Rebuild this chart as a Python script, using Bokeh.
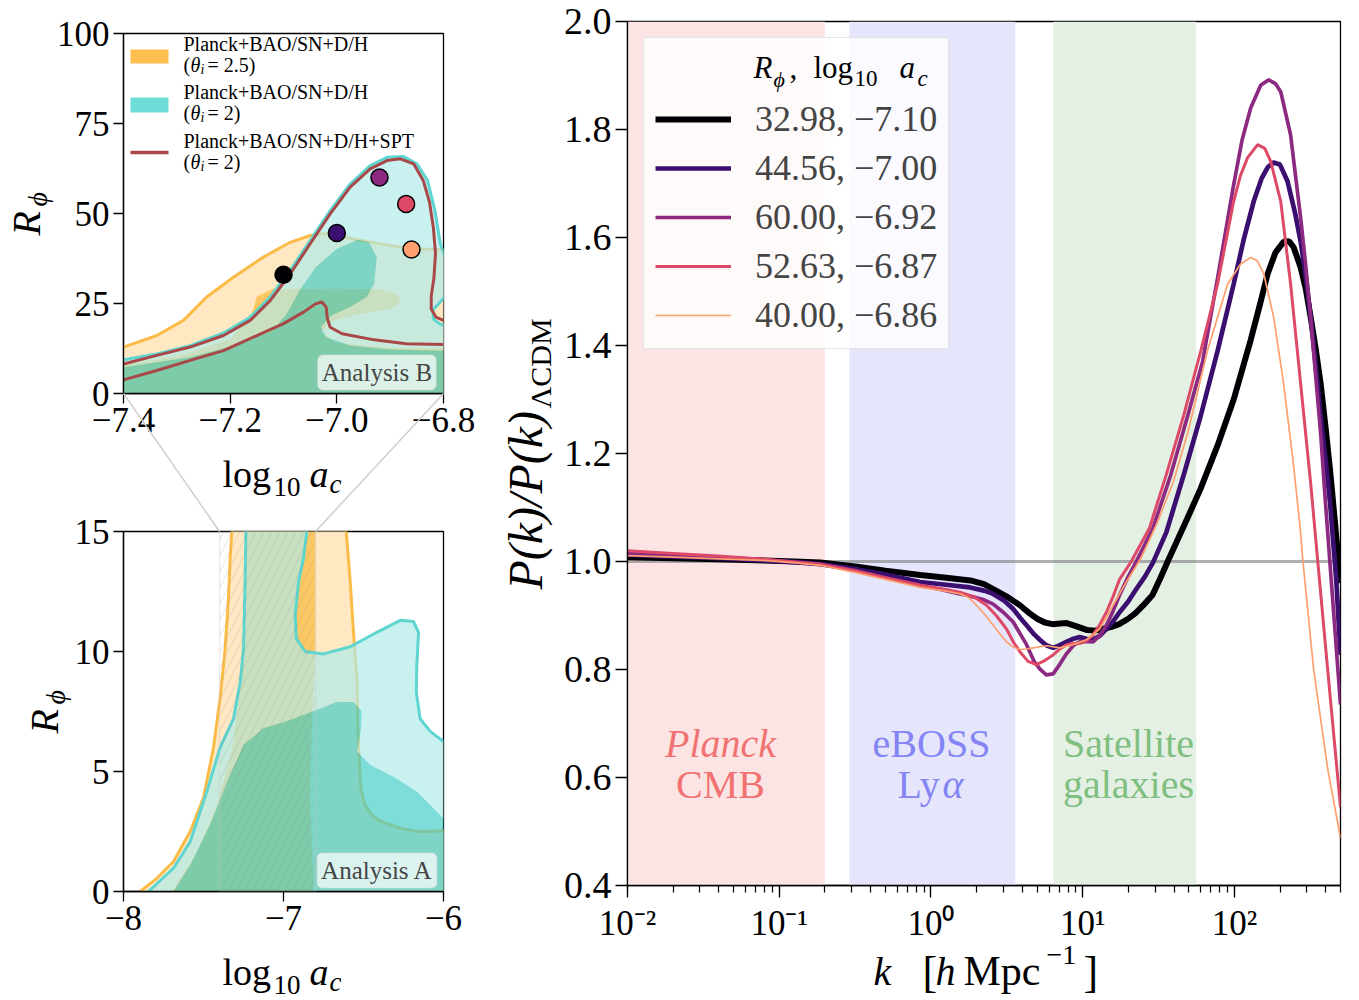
import numpy as np
from bokeh.plotting import figure
from bokeh.layouts import row, column
from bokeh.models import (Range1d, FixedTicker, CustomJSTickFormatter, Label, Span,
                          BoxAnnotation, Legend, LegendItem)
from bokeh.embed import file_html
from bokeh.resources import INLINE

SERIF = "Liberation Serif"

# ------------------------------------------------------------------ data
# benchmark models: R_phi and log10 a_c
R_phi = [32.98, 44.56, 60.00, 52.63, 40.00]
log10_ac = [-7.10, -7.00, -6.92, -6.87, -6.86]

# P(k)/P(k)_LCDM for each benchmark: log10(k [h/Mpc]) and ratio
lk_0 = [-2.0, -1.7, -1.4, -1.1, -0.9, -0.73, -0.5, -0.3, -0.07, 0.1, 0.26, 0.35, 0.41, 0.5,
        0.586, 0.65, 0.70, 0.75, 0.80, 0.85, 0.895, 0.96, 1.03, 1.08, 1.13, 1.19, 1.24, 1.30,
        1.35, 1.40, 1.46, 1.51, 1.56, 1.62, 1.69, 1.777, 1.889, 1.995, 2.107, 2.17, 2.219,
        2.27, 2.324, 2.36, 2.39, 2.436, 2.47, 2.502, 2.535, 2.568, 2.60, 2.63, 2.66, 2.699]
ratio_0 = [1.008, 1.006, 1.004, 1.002, 1.000, 0.998, 0.991, 0.983, 0.975, 0.970, 0.965, 0.958,
           0.949, 0.935, 0.919, 0.904, 0.894, 0.887, 0.884, 0.885, 0.886, 0.880, 0.873, 0.872,
           0.875, 0.879, 0.884, 0.894, 0.905, 0.919, 0.938, 0.968, 1.000, 1.037, 1.080, 1.135,
           1.215, 1.300, 1.410, 1.478, 1.533, 1.572, 1.592, 1.593, 1.582, 1.545, 1.505, 1.453,
           1.395, 1.330, 1.250, 1.170, 1.080, 0.960]

lk_1 = [-2.0, -1.7, -1.4, -1.1, -0.9, -0.73, -0.5, -0.3, -0.07, 0.1, 0.257, 0.35, 0.41, 0.48,
        0.542, 0.59, 0.63, 0.68, 0.717, 0.76, 0.805, 0.85, 0.893, 0.94, 0.98, 1.024, 1.068, 1.11,
        1.156, 1.20, 1.243, 1.30, 1.353, 1.41, 1.463, 1.551, 1.66, 1.777, 1.889, 1.995, 2.06,
        2.127, 2.18, 2.219, 2.258, 2.30, 2.35, 2.40, 2.436, 2.47, 2.502, 2.535, 2.568, 2.60,
        2.63, 2.67, 2.699]
ratio_1 = [1.012, 1.009, 1.006, 1.002, 0.999, 0.995, 0.986, 0.976, 0.962, 0.957, 0.952, 0.946,
           0.940, 0.928, 0.912, 0.895, 0.882, 0.865, 0.855, 0.845, 0.840, 0.845, 0.851, 0.857,
           0.860, 0.857, 0.855, 0.862, 0.875, 0.889, 0.906, 0.926, 0.949, 0.972, 0.998, 1.054,
           1.155, 1.269, 1.390, 1.514, 1.595, 1.667, 1.710, 1.730, 1.739, 1.735, 1.704, 1.645,
           1.593, 1.528, 1.453, 1.365, 1.270, 1.190, 1.109, 0.970, 0.827]

lk_2 = [-2.0, -1.7, -1.4, -1.1, -0.9, -0.73, -0.5, -0.3, -0.07, 0.1, 0.19, 0.257, 0.35, 0.41,
        0.48, 0.542, 0.59, 0.63, 0.68, 0.717, 0.76, 0.805, 0.85, 0.893, 0.94, 0.98, 1.024, 1.068,
        1.11, 1.156, 1.20, 1.243, 1.30, 1.353, 1.41, 1.463, 1.58, 1.692, 1.79, 1.889, 1.995,
        2.05, 2.107, 2.173, 2.226, 2.27, 2.305, 2.37, 2.436, 2.47, 2.502, 2.535, 2.568, 2.60,
        2.65, 2.699]
ratio_2 = [1.016, 1.012, 1.008, 1.003, 0.999, 0.995, 0.983, 0.970, 0.956, 0.946, 0.940, 0.936,
           0.929, 0.921, 0.905, 0.888, 0.865, 0.846, 0.815, 0.801, 0.790, 0.792, 0.810, 0.829,
           0.845, 0.851, 0.852, 0.851, 0.862, 0.882, 0.908, 0.938, 0.972, 1.000, 1.032, 1.062,
           1.160, 1.270, 1.370, 1.525, 1.698, 1.780, 1.840, 1.882, 1.892, 1.885, 1.870, 1.790,
           1.637, 1.548, 1.453, 1.345, 1.238, 1.109, 0.920, 0.735]

lk_3 = [-2.0, -1.7, -1.4, -1.1, -0.9, -0.73, -0.5, -0.3, -0.07, 0.1, 0.191, 0.28, 0.366, 0.43,
        0.498, 0.545, 0.586, 0.64, 0.695, 0.74, 0.805, 0.85, 0.893, 0.94, 0.98, 1.024, 1.068,
        1.11, 1.156, 1.20, 1.243, 1.32, 1.44, 1.55, 1.665, 1.78, 1.889, 1.995, 2.04, 2.087,
        2.153, 2.20, 2.239, 2.305, 2.37, 2.436, 2.502, 2.548, 2.614, 2.699]
ratio_3 = [1.020, 1.015, 1.010, 1.004, 0.999, 0.995, 0.983, 0.970, 0.956, 0.948, 0.943, 0.935,
           0.919, 0.900, 0.875, 0.850, 0.833, 0.815, 0.809, 0.815, 0.827, 0.838, 0.846, 0.848,
           0.848, 0.853, 0.864, 0.882, 0.906, 0.935, 0.967, 1.000, 1.062, 1.160, 1.270, 1.392,
           1.514, 1.667, 1.715, 1.748, 1.772, 1.765, 1.741, 1.667, 1.514, 1.330, 1.146, 1.004,
           0.801, 0.545]

lk_4 = [-2.0, -1.7, -1.4, -1.1, -0.9, -0.73, -0.5, -0.3, -0.07, 0.1, 0.191, 0.25, 0.30, 0.36,
        0.41, 0.46, 0.498, 0.54, 0.586, 0.63, 0.673, 0.761, 0.849, 0.936, 1.024, 1.112, 1.2,
        1.287, 1.382, 1.492, 1.60, 1.692, 1.823, 1.955, 2.041, 2.107, 2.15, 2.193, 2.258, 2.324,
        2.39, 2.436, 2.45, 2.522, 2.614, 2.699]
ratio_4 = [1.011, 1.008, 1.005, 1.002, 0.998, 0.993, 0.980, 0.967, 0.952, 0.945, 0.940, 0.933,
           0.919, 0.900, 0.882, 0.864, 0.851, 0.842, 0.837, 0.838, 0.840, 0.844, 0.840, 0.846,
           0.855, 0.875, 0.919, 0.962, 1.005, 1.072, 1.150, 1.238, 1.391, 1.514, 1.551, 1.563,
           1.557, 1.533, 1.453, 1.330, 1.177, 1.054, 1.004, 0.800, 0.617, 0.488]

# scales probed by each data set, k in h/Mpc
probe_top = ["Planck", "eBOSS", "Satellite"]
probe_bottom = ["CMB", "Ly", "galaxies"]
probe_k_lo = [0.01, 0.29, 6.4]
probe_k_hi = [0.20, 3.6, 56.0]

# Analysis B (theta_i = 2.5, 2 and +SPT): contour boundaries in (log10 a_c, R_phi)
b_orange_x = [-7.40, -7.3375, -7.2875, -7.244, -7.194, -7.1375, -7.0875, -7.05, -7.025, -7.00,
              -6.9625, -6.90, -6.856, -6.80]
b_orange_y = [12.9, 16.1, 20.3, 26.8, 32.3, 37.9, 42.0, 43.9, 44.4, 43.9, 42.7, 41.1, 40.2, 39.9]
b_orange_core_x = [-7.40, -7.30, -7.20, -7.16, -7.15, -7.12, -7.00, -6.92, -6.885, -6.882, -6.90,
                   -6.96, -7.01, -7.03, -7.00, -6.90, -6.80]
b_orange_core_y = [8.0, 10.5, 15.0, 22.0, 27.0, 29.0, 29.2, 29.0, 27.5, 25.0, 23.5, 22.0, 20.0,
                   17.0, 14.0, 12.8, 12.6]
b_cyan_x = [-7.40, -7.3375, -7.275, -7.2125, -7.1625, -7.125, -7.0875, -7.05, -7.0125, -6.975,
            -6.9375, -6.906, -6.875, -6.85, -6.83, -6.816, -6.806, -6.797, -6.797, -6.806, -6.82,
            -6.819, -6.806, -6.797]
b_cyan_y = [9.35, 11.0, 13.3, 16.8, 21.2, 26.8, 34.2, 42.5, 50.8, 58.2, 63.3, 65.6, 65.8, 63.8,
            59.2, 50.8, 41.6, 38.0, 27.0, 25.4, 23.2, 20.7, 19.2, 18.9]
b_cyan_core_x = [-7.40, -7.275, -7.18, -7.12, -7.094, -7.07, -7.04, -7.00, -6.96, -6.94, -6.925,
                 -6.93, -6.944, -6.975, -7.01, -7.03, -7.02, -6.975, -6.90, -6.80]
b_cyan_core_y = [7.3, 10.1, 13.8, 17.5, 22.1, 28.6, 35.1, 40.2, 42.7, 42.0, 37.9, 30.5, 26.8,
                 24.0, 21.7, 18.4, 15.6, 13.3, 12.2, 11.9]
b_spt_outer_x = [-7.40, -7.3375, -7.275, -7.2125, -7.1625, -7.125, -7.0875, -7.05, -7.0125,
                 -6.975, -6.9375, -6.906, -6.881, -6.856, -6.838, -6.826, -6.819, -6.815, -6.818,
                 -6.823, -6.823, -6.814, -6.80]
b_spt_outer_y = [8.2, 10.6, 12.9, 16.1, 20.3, 25.8, 33.2, 41.6, 49.9, 57.3, 62.4, 64.7, 65.2,
                 63.8, 59.2, 53.0, 46.0, 39.0, 32.0, 27.0, 23.5, 21.2, 20.3]
b_spt_inner_x = [-7.40, -7.3375, -7.275, -7.2125, -7.15, -7.10, -7.0625, -7.04, -7.028, -7.02,
                 -7.018, -7.0125, -6.99, -6.93, -6.87, -6.80]
b_spt_inner_y = [3.8, 6.4, 9.2, 11.9, 16.1, 19.4, 22.6, 24.9, 25.4, 24.0, 21.0, 18.4, 16.6, 14.9,
                 13.8, 13.6]

# Analysis A contours (outer contours split into a left and a right branch)
a_orange_lx = [-7.896, -7.79, -7.6875, -7.583, -7.50, -7.4375, -7.396, -7.365, -7.344, -7.333,
               -7.323, -7.32]
a_orange_ly = [0.0, 0.56, 1.25, 2.5, 3.9, 6.0, 8.06, 10.1, 12.2, 13.9, 15.0, 15.5]
a_orange_rx = [-6.61, -6.608, -6.583, -6.5625, -6.54, -6.535, -6.52, -6.515, -6.49, -6.45, -6.40,
               -6.333, -6.25, -6.167, -6.08, -6.0]
a_orange_ry = [15.5, 15.0, 12.9, 10.8, 8.75, 6.67, 4.6, 4.2, 3.6, 3.2, 2.95, 2.78, 2.6, 2.5, 2.5,
               2.54]
a_orange_core_x = [-7.70, -7.55, -7.42, -7.32, -7.26, -7.24, -7.235, -7.235, -6.80, -6.80, -6.82,
                   -6.835, -6.82, -6.81]
a_orange_core_y = [0.0, 1.5, 3.5, 6.0, 9.0, 12.0, 15.0, 15.5, 15.5, 10.0, 7.5, 4.0, 1.5, 0.0]
a_cyan_lx = [-7.844, -7.6875, -7.583, -7.479, -7.396, -7.3125, -7.27, -7.25, -7.24, -7.235, -7.234]
a_cyan_ly = [0.0, 0.97, 2.08, 4.17, 6.0, 7.2, 8.75, 10.1, 12.9, 15.0, 15.5]
a_cyan_rx = [-6.852, -6.854, -6.875, -6.906, -6.927, -6.92, -6.865, -6.75, -6.583, -6.417, -6.27,
             -6.1875, -6.156, -6.167, -6.17, -6.146, -6.083, -6.0]
a_cyan_ry = [15.5, 15.0, 13.9, 12.9, 11.5, 10.55, 10.0, 9.9, 10.2, 10.8, 11.3, 11.25, 10.8, 9.4,
             8.3, 7.2, 6.67, 6.25]
a_cyan_core_x = [-7.6875, -7.583, -7.458, -7.333, -7.25, -7.125, -6.958, -6.79, -6.667, -6.5625,
                 -6.51, -6.517, -6.54, -6.458, -6.29, -6.167, -6.0625, -6.0]
a_cyan_core_y = [0.0, 1.1, 2.8, 4.86, 6.1, 6.8, 7.15, 7.57, 7.9, 7.9, 7.5, 6.67, 5.83, 5.28, 4.7,
                 4.17, 3.47, 3.05]

# axis ranges and ticks
B_XR, B_YR = (-7.4, -6.8), (0.0, 100.0)
A_XR, A_YR = (-8.0, -6.0), (0.0, 15.0)
K_XR, K_YR = (0.01, 500.0), (0.4, 2.0)
b_xticks = [-7.4, -7.2, -7.0, -6.8]
b_yticks = [0, 25, 50, 75, 100]
a_xticks = [-8, -7, -6]
a_yticks = [0, 5, 10, 15]
k_yticks = [0.4, 0.6, 0.8, 1.0, 1.2, 1.4, 1.6, 1.8, 2.0]

# ------------------------------------------------------------------ style
model_colors = ["#000004", "#3b0f70", "#8c2981", "#de4968", "#fe9f6d"]
model_widths = [6.0, 4.7, 3.7, 3.0, 1.7]
probe_fill = ["#fde4e4", "#e5e5fc", "#e4f0e4"]
probe_text = ["#f07272", "#8484f4", "#7fbf7f"]
probe_center_px = [720, 931, 1128]
OR_1, OR_2, OR_A = "#fdc04d", "#ffe5b9", 0.87
CY_1, CY_2, CY_A = "#44ccc8", "#afebe8", 0.69
OR_LINE, CY_LINE, SPT_LINE = "#fbbc47", "#5fd5cf", "#a84848"

# page geometry of the three frames: left, top, width, height (px)
B_FRAME = (123, 33, 320, 360)
A_FRAME = (123, 531, 320, 360)
K_FRAME = (627, 21, 713, 864)
PAGE_W, PAGE_H = 1359, 1000
LEFT_W, TOP_H, BOT_H = 490, 505, 495
RIGHT_W, RIGHT_H = PAGE_W - LEFT_W, PAGE_H


def make_map(frame, xr, yr, logx=False):
    fx, fy, fw, fh = frame
    lx0, lx1 = (np.log10(xr[0]), np.log10(xr[1])) if logx else xr

    def to_data(px, py):
        xv = lx0 + (px - fx) / fw * (lx1 - lx0)
        x = 10 ** xv if logx else xv
        y = yr[1] - (py - fy) / fh * (yr[1] - yr[0])
        return float(x), float(y)

    def to_page(x, y):
        xv = np.log10(x) if logx else x
        return (float(fx + (xv - lx0) / (lx1 - lx0) * fw),
                float(fy + (yr[1] - y) / (yr[1] - yr[0]) * fh))
    return to_data, to_page


b_data, b_page = make_map(B_FRAME, B_XR, B_YR)
a_data, a_page = make_map(A_FRAME, A_XR, A_YR)
k_data, k_page = make_map(K_FRAME, K_XR, K_YR, logx=True)


def page_data(px, py):
    return float(px), float(py)


def text(p, to_data, s, px, py, size, style="normal", color="black", rotate=False,
         align="left"):
    """Place a text run by its baseline (px, py); rotated runs read bottom to top."""
    if rotate:
        px, py, angle = px - 0.34 * size, py, np.pi / 2
    else:
        py, angle = py - 0.34 * size, 0.0
    x, y = to_data(px, py)
    p.add_layout(Label(x=x, y=y, text=s, text_font=SERIF, text_font_size=f"{size}px",
                       text_font_style=style, text_color=color, angle=angle,
                       text_align=align, text_baseline="middle"))


def minus_fmt(decimals):
    return CustomJSTickFormatter(code=f"""
        const s = Math.abs(tick).toFixed({decimals});
        return (tick < -1e-9 ? "\\u2212" : "") + s;
    """)


def base_style(p, tick_size="35px"):
    p.grid.visible = False
    p.outline_line_color = "black"
    p.outline_line_width = 1.3
    p.outline_line_alpha = 1.0
    p.background_fill_color = "white"
    p.border_fill_color = "white"
    for ax in p.axis:
        ax.axis_line_width = 1.3
        ax.major_tick_line_width = 1.3
        ax.major_tick_in = 0
        ax.major_tick_out = 10
        ax.minor_tick_line_color = None
        ax.major_label_text_font = SERIF
        ax.major_label_text_font_size = tick_size
        ax.major_label_text_color = "black"
        ax.major_label_standoff = 4
        ax.axis_label = None


def close_down(xs, ys, x_left, x_right, y_floor):
    """Close an edge-to-edge contour branch down below the frame."""
    return ([x_left] + list(xs) + [x_right, x_right, x_left],
            [ys[0]] + list(ys) + [ys[-1], y_floor, y_floor])


def band_pair(p, outer, inner, c_out, c_in, alpha):
    """Outer (2 sigma) ring with the inner region cut out, then the inner (1 sigma) region."""
    (ox, oy), (ix, iy) = outer, inner
    p.multi_polygons(xs=[[[list(ox), list(ix)]]], ys=[[[list(oy), list(iy)]]],
                     fill_color=c_out, fill_alpha=alpha, line_color=None)
    p.multi_polygons(xs=[[[list(ix)]]], ys=[[[list(iy)]]],
                     fill_color=c_in, fill_alpha=alpha, line_color=None)


def corner_box(p, to_data, frame, s):
    x, y = to_data(376.5, frame[1] + frame[3] - 21.0)
    p.add_layout(Label(x=x, y=y, text=s, text_font=SERIF, text_font_size="25px",
                       text_align="center", text_baseline="middle",
                       background_fill_color="white", background_fill_alpha=0.72,
                       border_line_color="#d8d8d8", border_line_alpha=0.6,
                       padding=4, border_radius=5))


# ------------------------------------------------------------------ Analysis B (top left)
top = figure(width=LEFT_W, height=TOP_H, x_range=Range1d(*B_XR), y_range=Range1d(*B_YR),
             output_backend="svg", toolbar_location=None, title=None,
             min_border_left=B_FRAME[0], min_border_top=B_FRAME[1],
             min_border_right=LEFT_W - B_FRAME[0] - B_FRAME[2],
             min_border_bottom=TOP_H - B_FRAME[1] - B_FRAME[3])
base_style(top)
top.xaxis.ticker = FixedTicker(ticks=b_xticks)
top.xaxis.formatter = minus_fmt(1)
top.yaxis.ticker = FixedTicker(ticks=b_yticks)

XL, XR_, YF = -7.45, -6.75, -5.0
band_pair(top, close_down(b_orange_x, b_orange_y, XL, XR_, YF),
          close_down(b_orange_core_x, b_orange_core_y, XL, XR_, YF), OR_2, OR_1, OR_A)
top.line(b_orange_x, b_orange_y, line_color=OR_LINE, line_width=3)
band_pair(top, close_down(b_cyan_x, b_cyan_y, XL, XR_, YF),
          close_down(b_cyan_core_x, b_cyan_core_y, XL, XR_, YF), CY_2, CY_1, CY_A)
top.line(b_cyan_x, b_cyan_y, line_color=CY_LINE, line_width=3)
top.line(b_spt_outer_x, b_spt_outer_y, line_color=SPT_LINE, line_width=3)
top.line(b_spt_inner_x, b_spt_inner_y, line_color=SPT_LINE, line_width=3)
top.scatter(log10_ac, R_phi, size=17, fill_color=model_colors, line_color="black", line_width=1.5)

# key for the contour sets
for (y0, y1), col in [((49, 63), "#febe50"), ((97, 112), "#6edcd7")]:
    xa, ya = b_data(130, y1)
    xb, yb = b_data(168, y0)
    top.add_layout(BoxAnnotation(left=xa, right=xb, bottom=ya, top=yb, fill_color=col,
                                 fill_alpha=1.0, line_color=None))
xa, ya = b_data(130, 152)
xb, _ = b_data(168, 152)
top.segment(x0=[xa], y0=[ya], x1=[xb], y1=[ya], line_color=SPT_LINE, line_width=3.5)
for base_y, name, theta in [(50, "Planck+BAO/SN+D/H", "= 2.5)"),
                            (98, "Planck+BAO/SN+D/H", "= 2)"),
                            (147, "Planck+BAO/SN+D/H+SPT", "= 2)")]:
    text(top, b_data, name, 183, base_y, 20)
    text(top, b_data, "(", 183, base_y + 21, 20)
    text(top, b_data, "\u03b8", 190, base_y + 21, 20, style="italic")
    text(top, b_data, "i", 200, base_y + 24, 14, style="italic")
    text(top, b_data, theta, 207, base_y + 21, 20)
corner_box(top, b_data, B_FRAME, "Analysis B")

# ------------------------------------------------------------------ Analysis A (bottom left)
bot = figure(width=LEFT_W, height=BOT_H, x_range=Range1d(*A_XR), y_range=Range1d(*A_YR),
             output_backend="svg", toolbar_location=None, title=None,
             min_border_left=A_FRAME[0], min_border_top=A_FRAME[1] - TOP_H,
             min_border_right=LEFT_W - A_FRAME[0] - A_FRAME[2],
             min_border_bottom=TOP_H + BOT_H - A_FRAME[1] - A_FRAME[3])
base_style(bot)
bot.xaxis.ticker = FixedTicker(ticks=a_xticks)
bot.xaxis.formatter = minus_fmt(0)
bot.yaxis.ticker = FixedTicker(ticks=a_yticks)

a_or_out = (a_orange_lx + a_orange_rx + [-5.9, -5.9, -7.95],
            a_orange_ly + a_orange_ry + [a_orange_ry[-1], -1.0, -1.0])
a_or_in = (a_orange_core_x + [-6.81, -7.70], a_orange_core_y + [-1.0, -1.0])
band_pair(bot, a_or_out, a_or_in, OR_2, OR_1, OR_A)
bot.multi_line([a_orange_lx, a_orange_rx], [a_orange_ly, a_orange_ry], line_color=OR_LINE,
               line_width=3)
a_cy_out = (a_cyan_lx + a_cyan_rx + [-5.9, -5.9, -7.9],
            a_cyan_ly + a_cyan_ry + [a_cyan_ry[-1], -1.0, -1.0])
a_cy_in = (a_cyan_core_x + [-5.9, -5.9, -7.69],
           a_cyan_core_y + [a_cyan_core_y[-1], -1.0, -1.0])
band_pair(bot, a_cy_out, a_cy_in, CY_2, CY_1, CY_A)
bot.multi_line([a_cyan_lx, a_cyan_rx], [a_cyan_ly, a_cyan_ry], line_color=CY_LINE, line_width=3)

# window of Analysis B, shown hatched
bot.add_layout(BoxAnnotation(left=B_XR[0], right=B_XR[1], fill_alpha=0.0,
                             hatch_pattern="/", hatch_color="#808080", hatch_alpha=0.2,
                             hatch_scale=16, hatch_weight=1.0,
                             line_color="#c8c8c8", line_width=1.5))
corner_box(bot, a_data, A_FRAME, "Analysis A")

# ------------------------------------------------------------------ power spectrum ratio (right)
rp = figure(width=RIGHT_W, height=RIGHT_H, x_axis_type="log", x_range=Range1d(*K_XR),
            y_range=Range1d(*K_YR), output_backend="svg", toolbar_location=None, title=None,
            min_border_left=K_FRAME[0] - LEFT_W, min_border_top=K_FRAME[1],
            min_border_right=RIGHT_W - (K_FRAME[0] - LEFT_W) - K_FRAME[2],
            min_border_bottom=RIGHT_H - K_FRAME[1] - K_FRAME[3])
base_style(rp)
rp.yaxis.ticker = FixedTicker(ticks=k_yticks)
rp.yaxis.formatter = minus_fmt(1)
rp.yaxis.major_label_text_font_size = "38px"
rp.xaxis.major_tick_out = 12
rp.yaxis.major_tick_out = 12
rp.xaxis.minor_tick_line_color = "black"
rp.xaxis.minor_tick_line_width = 1.2
rp.xaxis.minor_tick_in = 0
rp.xaxis.minor_tick_out = 7
rp.xaxis.major_label_standoff = 6
rp.xaxis.formatter = CustomJSTickFormatter(code="""
    const sup = {"-": "\\u207b", "0": "\\u2070", "1": "\\u00b9", "2": "\\u00b2", "3": "\\u00b3",
                 "4": "\\u2074", "5": "\\u2075", "6": "\\u2076", "7": "\\u2077", "8": "\\u2078",
                 "9": "\\u2079"};
    const e = Math.round(Math.log10(tick));
    return "10" + String(e).split("").map(c => sup[c]).join("");
""")

for lo, hi, col in zip(probe_k_lo, probe_k_hi, probe_fill):
    rp.add_layout(BoxAnnotation(left=lo, right=hi, fill_color=col, fill_alpha=1.0,
                                line_color=None, level="underlay"))
rp.add_layout(Span(location=1.0, dimension="width", line_color="gray", line_alpha=0.62,
                   line_width=3, level="underlay"))

curves = [(lk_0, ratio_0), (lk_1, ratio_1), (lk_2, ratio_2), (lk_3, ratio_3), (lk_4, ratio_4)]
renderers = []
for (lk, rr), col, w in zip(curves, model_colors, model_widths):
    renderers.append(rp.line(10 ** np.array(lk), rr, line_color=col, line_width=w))

items = [LegendItem(label=f"{r:.2f}, {a:.2f}".replace("-", "\u2212"), renderers=[rd])
         for r, a, rd in zip(R_phi, log10_ac, renderers)]
legend = Legend(items=items, location="top_left", margin=16, padding=11,
                title=" ", title_text_font_size="38px", title_standoff=5,
                label_text_font=SERIF, label_text_font_size="36px",
                label_height=44, glyph_height=44, glyph_width=76, label_standoff=24,
                spacing=5, border_line_color="#cccccc", border_line_width=1.2,
                background_fill_color="white", background_fill_alpha=0.8)
rp.add_layout(legend)

# probe labels
for name, second, col, cx in zip(probe_top, probe_bottom, probe_text, probe_center_px):
    text(rp, k_data, name, cx, 757, 40, style="italic" if name == "Planck" else "normal",
         color=col, align="center")
    if second == "Ly":
        text(rp, k_data, "Ly", cx - 34, 798, 40, color=col)
        text(rp, k_data, "\u03b1", cx + 11, 798, 40, style="italic", color=col)
    else:
        text(rp, k_data, second, cx, 798, 40, color=col, align="center")

# ------------------------------------------------------------------ page-wide layer for titles
ov = figure(width=PAGE_W, height=PAGE_H, x_range=Range1d(0, PAGE_W), y_range=Range1d(PAGE_H, 0),
            output_backend="svg", toolbar_location=None, title=None,
            x_axis_location=None, y_axis_location=None, min_border=0,
            outline_line_color=None, background_fill_alpha=0.0, border_fill_alpha=0.0,
            styles={"position": "absolute", "top": "0px", "left": "0px", "z-index": "10",
                    "pointer-events": "none"})
ov.grid.visible = False

# connectors from the Analysis B frame corners to its window in Analysis A
for xz in B_XR:
    sx, sy = b_page(xz, B_YR[0])
    ex, ey = a_page(xz, A_YR[1])
    ov.segment(x0=[sx], y0=[sy], x1=[ex], y1=[ey], line_color="#cdcdcd", line_width=1.4)

# titles of the left panels
for (fx, fy, fw, fh), shift in [(B_FRAME, 0), (A_FRAME, 18)]:
    mid = fy + fh / 2
    text(ov, page_data, "R", 40 + shift, mid + 22, 40, style="italic", rotate=True)
    text(ov, page_data, "\u03d5", 47 + shift, mid - 7, 28, style="italic", rotate=True)
    base = fy + fh + 93
    text(ov, page_data, "log", 222, base, 38)
    text(ov, page_data, "10", 273, base + 10, 27)
    text(ov, page_data, "a", 309, base, 38, style="italic")
    text(ov, page_data, "c", 329, base + 7, 27, style="italic")

# titles of the right panel
text(ov, page_data, "k", 873, 985, 40, style="italic")
text(ov, page_data, "[", 922, 987, 44)
text(ov, page_data, "h", 935, 985, 40, style="italic")
text(ov, page_data, "Mpc", 963, 985, 42)
text(ov, page_data, "\u22121", 1046, 964, 28)
text(ov, page_data, "]", 1083, 987, 44)
text(ov, page_data, "P(k)/P(k)", 541, 589, 48, style="italic", rotate=True)
text(ov, page_data, "\u039bCDM", 550, 408, 30, rotate=True)

# legend heading
text(ov, page_data, "R", 753, 78, 31, style="italic")
text(ov, page_data, "\u03d5", 773, 86, 22, style="italic")
text(ov, page_data, ",", 789, 78, 31)
text(ov, page_data, "log", 813, 78, 31)
text(ov, page_data, "10", 854, 86, 23)
text(ov, page_data, "a", 899, 78, 31, style="italic")
text(ov, page_data, "c", 917, 86, 23, style="italic")

layout = column(row(column(top, bot), rp), ov)
with open("out.html", "w", encoding="utf-8") as f:
    f.write(file_html(layout, INLINE))
